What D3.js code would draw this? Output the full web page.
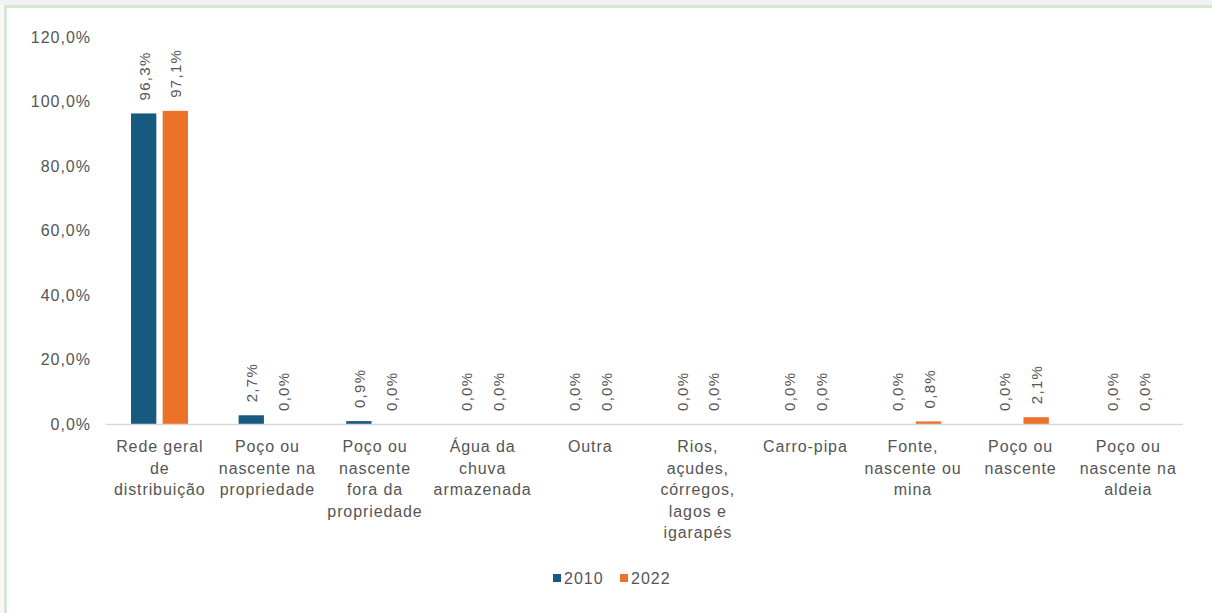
<!DOCTYPE html>
<html>
<head>
<meta charset="utf-8">
<script src="https://cdn.jsdelivr.net/npm/d3@7"></script>
<style>
  html, body { margin: 0; padding: 0; background: #f7f7f7; }
  svg { display: block; }
  text { font-family: 'Liberation Sans', Arial, sans-serif; fill: #555; }
</style>
</head>
<body>
<svg width="1212" height="613"></svg>
<script>
// categorias e valores (%)
var categories = [
  ["Rede geral", "de", "distribuição"],
  ["Poço ou", "nascente na", "propriedade"],
  ["Poço ou", "nascente", "fora da", "propriedade"],
  ["Água da", "chuva", "armazenada"],
  ["Outra"],
  ["Rios,", "açudes,", "córregos,", "lagos e", "igarapés"],
  ["Carro-pipa"],
  ["Fonte,", "nascente ou", "mina"],
  ["Poço ou", "nascente"],
  ["Poço ou", "nascente na", "aldeia"]
];
var values2010 = [96.3, 2.7, 0.9, 0.0, 0.0, 0.0, 0.0, 0.0, 0.0, 0.0];
var values2022 = [97.1, 0.0, 0.0, 0.0, 0.0, 0.0, 0.0, 0.8, 2.1, 0.0];
var seriesNames = ["2010", "2022"];
var yTicks = [0, 20, 40, 60, 80, 100, 120];

var colors = ["#175a80", "#ec7129"];

var svg = d3.select("svg");

// moldura
svg.append("rect").attr("x", 0).attr("y", 0).attr("width", 1212).attr("height", 5).attr("fill", "#f2f2f2");
svg.append("rect").attr("x", 5.5).attr("y", 6.5).attr("width", 1220).attr("height", 620)
  .attr("fill", "#fff").attr("stroke", "#d5e8cf").attr("stroke-width", 3);

var margin = {left: 106, right: 1182, top: 37, bottom: 424};

var x = d3.scaleBand().domain(d3.range(categories.length))
  .range([margin.left, margin.right]).paddingInner(0).paddingOuter(0);
var x1 = d3.scaleBand().domain([0, 1]).range([25, 82]).paddingInner(0.2);
var y = d3.scaleLinear().domain([0, 120]).range([margin.bottom, margin.top]);

var fmt = function(v) { return d3.format(".1f")(v).replace(".", ",") + "%"; };

// eixo y (apenas rótulos)
svg.append("g").selectAll("text").data(yTicks).enter().append("text")
  .attr("x", 91).attr("y", function(d) { return y(d); })
  .attr("dy", "0.35em").attr("text-anchor", "end")
  .style("font-size", "16px").style("letter-spacing", "1px")
  .text(function(d) { return fmt(d); });

// barras
var data = [];
categories.forEach(function(c, i) {
  data.push({cat: i, s: 0, v: values2010[i]});
  data.push({cat: i, s: 1, v: values2022[i]});
});

svg.append("g").selectAll("rect").data(data).enter().append("rect")
  .attr("x", function(d) { return x(d.cat) + x1(d.s); })
  .attr("width", x1.bandwidth())
  .attr("y", function(d) { return y(d.v); })
  .attr("height", function(d) { return y(0) - y(d.v); })
  .attr("fill", function(d) { return colors[d.s]; });

// linha do eixo x
svg.append("line").attr("x1", margin.left).attr("x2", margin.right + 1)
  .attr("y1", y(0) + 0.5).attr("y2", y(0) + 0.5)
  .attr("stroke", "#d9d9d9").attr("stroke-width", 1.5);

// rótulos de dados
svg.append("g").selectAll("text").data(data).enter().append("text")
  .attr("transform", function(d) {
    var cx = x(d.cat) + x1(d.s) + x1.bandwidth() / 2;
    return "translate(" + (cx + 6) + "," + (y(d.v) - 13) + ") rotate(-90)";
  })
  .attr("text-anchor", "start")
  .style("font-size", "15px").style("letter-spacing", "1.3px")
  .text(function(d) { return fmt(d.v); });

// rótulos de categoria
var cl = svg.append("g").selectAll("text").data(categories).enter().append("text")
  .attr("x", function(d, i) { return x(i) + x.bandwidth() / 2; })
  .attr("y", 452)
  .attr("text-anchor", "middle")
  .style("font-size", "16px").style("letter-spacing", "0.9px");
cl.selectAll("tspan").data(function(d) { return d; }).enter().append("tspan")
  .attr("x", function() { return d3.select(this.parentNode).attr("x"); })
  .attr("dy", function(d, i) { return i === 0 ? 0 : 21.5; })
  .text(function(d) { return d; });

// legenda
var lg = svg.append("g").attr("transform", "translate(553,578)");
seriesNames.forEach(function(s, i) {
  var g = lg.append("g").attr("transform", "translate(" + (i * 67) + ",0)");
  g.append("rect").attr("x", 0).attr("y", -4).attr("width", 8).attr("height", 8).attr("fill", colors[i]);
  g.append("text").attr("x", 11).attr("y", 0).attr("dy", "0.35em")
    .style("font-size", "16px").style("letter-spacing", "1px").text(s);
});
</script>
</body>
</html>
